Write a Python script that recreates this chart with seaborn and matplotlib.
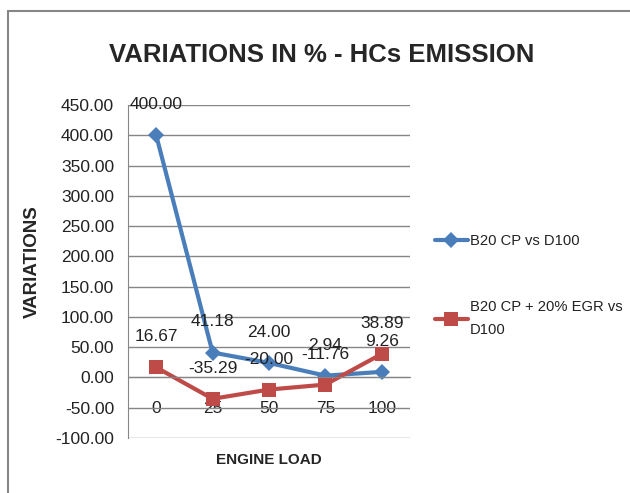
import pandas as pd
import numpy as np
import matplotlib
matplotlib.use("Agg")
import matplotlib.pyplot as plt
import seaborn as sns
from matplotlib.lines import Line2D

# data
engine_load = [0, 25, 50, 75, 100]
b20_cp = [400.00, 41.18, 24.00, 2.94, 9.26]
b20_cp_egr = [16.67, -35.29, -20.00, -11.76, 38.89]
series_names = ["B20 CP vs D100", "B20 CP + 20% EGR vs\nD100"]
y_ticks = [-100, -50, 0, 50, 100, 150, 200, 250, 300, 350, 400, 450]

df = pd.DataFrame({
    "load": engine_load * 2,
    "value": b20_cp + b20_cp_egr,
    "series": [series_names[0]] * 5 + [series_names[1]] * 5,
})

sns.set_style("white")
plt.rcParams['font.family'] = ['Liberation Sans', 'DejaVu Sans']

fig = plt.figure(figsize=(6.30, 4.93), dpi=100)
ax = fig.add_axes([128 / 630, 1 - 438 / 493, 282 / 630, 333 / 493])

colors = {series_names[0]: "#4A7EBB", series_names[1]: "#BE4B48"}
markers = {series_names[0]: "D", series_names[1]: "s"}
sizes = {series_names[0]: 8, series_names[1]: 10}

for name in series_names:
    sub = df[df["series"] == name]
    sns.lineplot(data=sub, x="load", y="value", ax=ax, color=colors[name],
                 marker=markers[name], markersize=sizes[name], linewidth=3,
                 markeredgewidth=0, label=name)

# data labels
for vals in [b20_cp, b20_cp_egr]:
    for x, v in zip(engine_load, vals):
        ax.annotate(f"{v:.2f}", (x, v), xytext=(0, 22), textcoords="offset points",
                    ha="center", va="center", fontsize=12.5, color="#222222")

ax.set_xlim(-12.5, 112.5)
ax.set_ylim(-100, 450)
ax.set_yticks(y_ticks)
ax.set_yticklabels([f"{t:.2f}" for t in y_ticks])
ax.set_xticks(engine_load)
ax.set_xticklabels([str(v) for v in engine_load])
ax.set_xticks([0 + 12.5, 25 + 12.5, 50 + 12.5, 75 + 12.5], minor=True)
ax.tick_params(axis="both", which="major", labelsize=12.5, labelcolor="#222222")
ax.tick_params(axis="x", which="major", length=0, pad=17)
ax.tick_params(axis="x", which="minor", length=5, color="#868686", direction="out")
ax.tick_params(axis="y", length=6, color="#868686", direction="out", pad=4)

ax.grid(axis="y", color="#868686", linewidth=1)
ax.set_axisbelow(True)
for s in ["top", "right"]:
    ax.spines[s].set_visible(False)
ax.spines["bottom"].set_position(("data", 0))
ax.spines["bottom"].set_color("#868686")
ax.spines["left"].set_color("#868686")

ax.set_xlabel("")
ax.set_ylabel("VARIATIONS", fontsize=13.5, fontweight="bold")
ax.yaxis.set_label_coords(-0.31, 0.53)
ax.text(0.5, -0.066, "ENGINE LOAD", transform=ax.transAxes, ha="center", va="center",
        fontsize=11, fontweight="bold")

fig.text(0.51, 1 - 55 / 493, "VARIATIONS IN % - HCs EMISSION", ha="center", va="center",
         fontsize=18.5, fontweight="bold")

leg = ax.legend(loc="upper left", bbox_to_anchor=(422 / 630, 1 - 221 / 493),
                bbox_transform=fig.transFigure, frameon=False, fontsize=10.6,
                handlelength=2.2, handletextpad=0.15, labelspacing=3.5)
for t in leg.get_texts():
    t.set_linespacing(1.8)
    t.set_color("#222222")

# chart border (left and top visible)
fig.add_artist(Line2D([8 / 630, 8 / 630], [0, 1 - 11 / 493], color="#868686", lw=1.5,
                      transform=fig.transFigure))
fig.add_artist(Line2D([8 / 630, 1], [1 - 11 / 493, 1 - 11 / 493], color="#868686", lw=1.5,
                      transform=fig.transFigure))

fig.savefig("out.png", dpi=100)
